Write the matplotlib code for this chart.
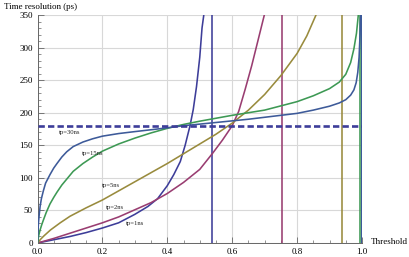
import matplotlib
matplotlib.use("Agg")
import matplotlib.pyplot as plt
from matplotlib.ticker import MultipleLocator

# ---- data ----
x_1ns = [0, 0.03, 0.06, 0.1, 0.15, 0.2, 0.25, 0.3, 0.34, 0.37, 0.4, 0.42, 0.44, 0.455, 0.47, 0.48, 0.49, 0.5, 0.507, 0.513]
y_1ns = [0, 3, 6, 10, 16, 23, 31, 44, 56, 68, 88, 105, 125, 150, 180, 205, 240, 285, 330, 352]

x_2ns = [0, 0.05, 0.1, 0.15, 0.2, 0.25, 0.3, 0.35, 0.4, 0.45, 0.5, 0.54, 0.57, 0.6, 0.62, 0.64, 0.66, 0.68, 0.7]
y_2ns = [0, 7, 15, 23, 31, 40, 51, 62, 76, 93, 113, 138, 158, 180, 202, 236, 272, 312, 352]

x_5ns = [0, 0.01, 0.02, 0.04, 0.07, 0.1, 0.15, 0.2, 0.25, 0.3, 0.35, 0.4, 0.45, 0.5, 0.55, 0.6, 0.65, 0.7, 0.75, 0.8, 0.83, 0.86]
y_5ns = [0, 6, 11, 20, 31, 41, 54, 66, 80, 94, 108, 122, 137, 152, 167, 184, 204, 228, 257, 291, 318, 352]

x_15ns = [0, 0.004, 0.008, 0.013, 0.018, 0.027, 0.0385, 0.05, 0.06, 0.075, 0.09, 0.11, 0.14, 0.17, 0.2, 0.25,
          0.3, 0.35, 0.4, 0.45, 0.5, 0.6, 0.7, 0.8, 0.85, 0.9, 0.93, 0.95, 0.965, 0.975, 0.983, 0.989]
y_15ns = [0, 12, 20, 28, 35, 47, 60, 70, 78, 89, 98, 110, 122, 132, 141, 152,
          161, 169, 176, 182, 187, 196, 204, 217, 226, 237, 247, 259, 277, 298, 322, 352]

x_30ns = [0, 0.001, 0.003, 0.005, 0.008, 0.012, 0.018, 0.025, 0.0385, 0.05, 0.06, 0.075, 0.09, 0.11, 0.14, 0.17,
          0.2, 0.25, 0.3, 0.37, 0.45, 0.55, 0.65, 0.75, 0.8, 0.85, 0.9, 0.93, 0.95, 0.965, 0.975, 0.982,
          0.987, 0.991, 0.994, 0.996]
y_30ns = [0, 15, 31, 42, 56, 68, 80, 92, 105, 115, 122, 132, 140, 148, 155, 160,
          164, 168, 171, 175, 180, 185, 190, 196, 199, 204, 210, 215, 220, 227, 235, 246,
          262, 285, 320, 352]

asymptotes = [0.539, 0.7525, 0.939, 0.993, 0.999]
target = 180

labels = ["tp=1ns", "tp=2ns", "tp=5ns", "tp=15ns", "tp=30ns"]
label_pos = [(0.30, 30), (0.239, 55), (0.226, 89), (0.169, 138), (0.099, 170)]
colors = ["#3D3D99", "#993D71", "#998B3D", "#3D9954", "#3D5A99"]

xticks = [0.0, 0.2, 0.4, 0.6, 0.8, 1.0]
yticks = [0, 50, 100, 150, 200, 250, 300, 350]

plt.rcParams['font.family'] = ['Liberation Serif', 'DejaVu Serif']

fig = plt.figure(figsize=(4.09, 2.57), dpi=100)
ax = fig.add_axes([37.5/409, 1-243/257, (362-37.5)/409, (243-15)/257])

series = [(x_1ns, y_1ns), (x_2ns, y_2ns), (x_5ns, y_5ns), (x_15ns, y_15ns), (x_30ns, y_30ns)]
for (xs, ys), c, xa in zip(series, colors, asymptotes):
    ax.plot(xs, ys, color=c, lw=1.15, solid_joinstyle='round', zorder=3)
    ax.plot([xa, xa], [0, 360], color=c, lw=2.2 if xa > 0.995 else 1.15, zorder=3)

ax.plot([0, 1.0], [target, target], color="#3D3D99", lw=1.9, dashes=(2.4, 1.2), zorder=4)

for lab, (lx, ly) in zip(labels, label_pos):
    ax.text(lx, ly, lab, fontsize=4.8, ha='center', va='center', color='#222222', zorder=5)

ax.set_xlim(0, 1.0)
ax.set_ylim(0, 350)
ax.set_xticks(xticks)
ax.set_xticklabels([f"{v:.1f}" for v in xticks])
ax.set_yticks(yticks)
ax.set_yticklabels([str(v) for v in yticks])
ax.xaxis.set_minor_locator(MultipleLocator(0.05))
ax.yaxis.set_minor_locator(MultipleLocator(10))
ax.grid(True, which='major', color='#d8d8d8', lw=0.8, zorder=0)
for s in ['top', 'right']:
    ax.spines[s].set_visible(False)
for s in ['left', 'bottom']:
    ax.spines[s].set_color('#666666')
    ax.spines[s].set_linewidth(0.7)
ax.tick_params(which='major', direction='in', length=4, width=0.6, color='#666666',
               labelsize=6.5)
ax.tick_params(axis='x', which='major', pad=3.5)
ax.tick_params(axis='y', which='major', pad=3.5)
ax.tick_params(which='minor', direction='in', length=2, width=0.5, color='#666666')

fig.text(4/409, 1-7/257, "Time resolution (ps)", fontsize=6.5, ha='left', va='center')
fig.text(371/409, 1-242/257, "Threshold", fontsize=6.5, ha='left', va='center')

fig.savefig("out.png", dpi=100)
